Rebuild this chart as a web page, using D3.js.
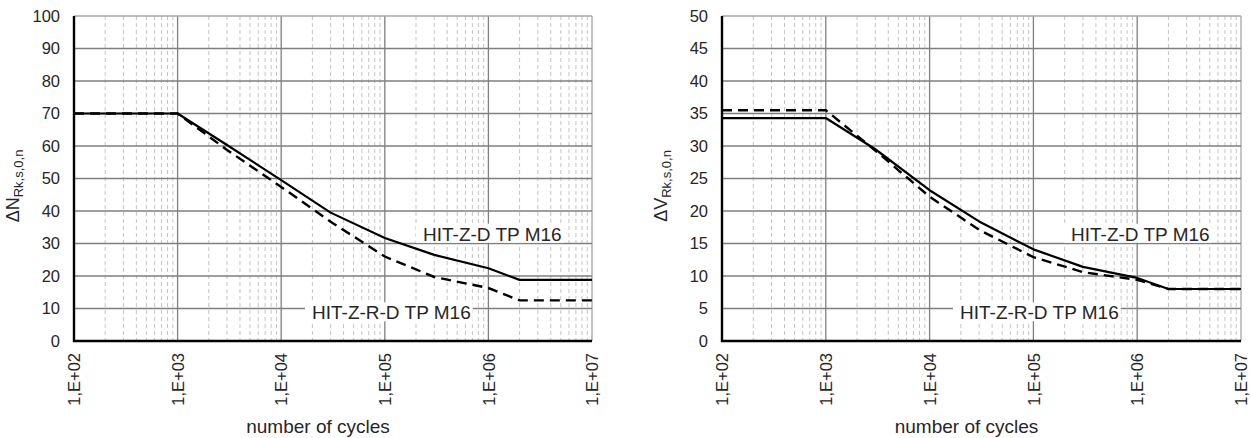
<!DOCTYPE html>
<html>
<head>
<meta charset="utf-8">
<script src="https://cdn.jsdelivr.net/npm/d3@7"></script>
<style>
    body { margin: 0; background: #fff; }
    text { font-family: "Liberation Sans", Arial, sans-serif; fill: #262626; }
</style>
</head>
<body>
<script>
// cycle counts shared by both charts
var cycles = [1e2, 1e3, 3e3, 1e4, 3e4, 1e5, 3e5, 1e6, 2e6, 1e7];
var xTicks = [1e2, 1e3, 1e4, 1e5, 1e6, 1e7];

// tension (left chart)
var tensionZD = [70, 70, 60.3, 49.5, 39.5, 31.7, 26.5, 22.4, 18.8, 18.8];
var tensionZRD = [70, 70, 58.8, 47.4, 36.7, 26.0, 19.7, 16.3, 12.5, 12.5];
var tensionTicks = [0, 10, 20, 30, 40, 50, 60, 70, 80, 90, 100];

// shear (right chart)
var shearZD = [34.3, 34.3, 29.5, 23.2, 18.4, 14.1, 11.4, 9.7, 8.0, 8.0];
var shearZRD = [35.5, 35.5, 29.3, 22.2, 17.1, 12.9, 10.6, 9.4, 8.0, 8.0];
var shearTicks = [0, 5, 10, 15, 20, 25, 30, 35, 40, 45, 50];

var seriesNames = ["HIT-Z-D TP M16", "HIT-Z-R-D TP M16"];

var svg = d3.select("body")
    .append("svg")
    .attr("width", 1251)
    .attr("height", 438);

function drawChart(opt) {
    var top = 16, bottom = 341;
    var x = d3.scaleLog().domain([1e2, 1e7]).range([opt.left, opt.right]);
    var y = d3.scaleLinear().domain([0, opt.ticks[opt.ticks.length - 1]]).range([bottom, top]);

    var g = svg.append("g");

    // minor vertical grid (2..9 in every decade)
    var minor = [];
    for (var d = 2; d < 7; d++) {
        for (var k = 2; k < 10; k++) minor.push(k * Math.pow(10, d));
    }
    g.selectAll(".minor")
        .data(minor)
        .enter()
        .append("line")
        .attr("x1", function (v) { return x(v); })
        .attr("x2", function (v) { return x(v); })
        .attr("y1", top)
        .attr("y2", bottom)
        .style("stroke", "#c4c4c4")
        .style("stroke-width", 1)
        .style("stroke-dasharray", "4,3");

    // major vertical grid
    g.selectAll(".vmajor")
        .data(xTicks.slice(1))
        .enter()
        .append("line")
        .attr("x1", function (v) { return x(v); })
        .attr("x2", function (v) { return x(v); })
        .attr("y1", top)
        .attr("y2", bottom)
        .style("stroke", function (v, i) { return i == xTicks.length - 2 ? "#a6a6a6" : "#7f7f7f"; })
        .style("stroke-width", 1.3);

    // horizontal grid
    g.selectAll(".hmajor")
        .data(opt.ticks.slice(1))
        .enter()
        .append("line")
        .attr("x1", opt.left)
        .attr("x2", opt.right)
        .attr("y1", function (v) { return y(v); })
        .attr("y2", function (v) { return y(v); })
        .style("stroke", function (v, i) { return i == opt.ticks.length - 2 ? "#a6a6a6" : "#7f7f7f"; })
        .style("stroke-width", 1.3);

    // series labels with white boxes
    var labelPos = [[349, 240.7], [238, 319.3]];
    seriesNames.forEach(function (name, i) {
        var lg = g.append("g");
        var bg = lg.append("rect").style("fill", "#fff");
        var t = lg.append("text")
            .attr("x", opt.left + labelPos[i][0])
            .attr("y", labelPos[i][1])
            .style("font-size", "19px")
            .text(name);
        var b = t.node().getBBox();
        bg.attr("x", b.x - 7)
            .attr("width", b.width + 9)
            .attr("y", labelPos[i][1] - 17)
            .attr("height", 19);
    });

    // curves
    var line = d3.line()
        .x(function (d) { return x(d[0]); })
        .y(function (d) { return y(d[1]); });

    g.append("path")
        .datum(d3.zip(cycles, opt.zd))
        .attr("d", line)
        .style("fill", "none")
        .style("stroke", "#000")
        .style("stroke-width", 2.2)
        .style("stroke-linejoin", "round");

    g.append("path")
        .datum(d3.zip(cycles, opt.zrd))
        .attr("d", line)
        .style("fill", "none")
        .style("stroke", "#000")
        .style("stroke-width", 2.4)
        .style("stroke-dasharray", "10,6");

    // axes
    var yAxis = d3.axisLeft(y).tickValues(opt.ticks).tickSize(0).tickPadding(14);
    var ya = g.append("g")
        .attr("transform", "translate(" + opt.left + ",0)")
        .call(yAxis);
    ya.select(".domain").remove();
    ya.selectAll("text").style("font-size", "16.5px");

    var xAxis = d3.axisBottom(x)
        .tickValues(xTicks)
        .tickSize(0)
        .tickFormat(function (v) { return "1,E+0" + Math.round(Math.log10(v)); });
    var xa = g.append("g")
        .attr("transform", "translate(0," + bottom + ")")
        .call(xAxis);
    xa.select(".domain").remove();
    xa.selectAll("text")
        .style("font-size", "16.5px")
        .attr("transform", "rotate(-90)")
        .attr("text-anchor", "end")
        .attr("x", -12)
        .attr("y", 0)
        .attr("dy", "0.35em");

    // axis lines
    g.append("line")
        .attr("x1", opt.left).attr("x2", opt.left)
        .attr("y1", top).attr("y2", bottom + 1)
        .style("stroke", "#000").style("stroke-width", 2.4);
    g.append("line")
        .attr("x1", opt.left - 1).attr("x2", opt.right)
        .attr("y1", bottom).attr("y2", bottom)
        .style("stroke", "#000").style("stroke-width", 2.4);

    // titles
    g.append("text")
        .attr("x", (opt.left + opt.right) / 2 - 15)
        .attr("y", 433)
        .attr("text-anchor", "middle")
        .style("font-size", "19px")
        .text("number of cycles");

    var yt = g.append("text")
        .attr("transform", "translate(" + (opt.left - 55) + ",186) rotate(-90)")
        .attr("text-anchor", "middle")
        .style("font-size", "18px");
    yt.append("tspan").text("\u0394" + opt.letter);
    yt.append("tspan")
        .attr("dy", 4)
        .style("font-size", "13px")
        .text("Rk,s,0,n");
}

drawChart({ left: 74, right: 592, ticks: tensionTicks, zd: tensionZD, zrd: tensionZRD, letter: "N" });
drawChart({ left: 722, right: 1241, ticks: shearTicks, zd: shearZD, zrd: shearZRD, letter: "V" });
</script>
</body>
</html>
